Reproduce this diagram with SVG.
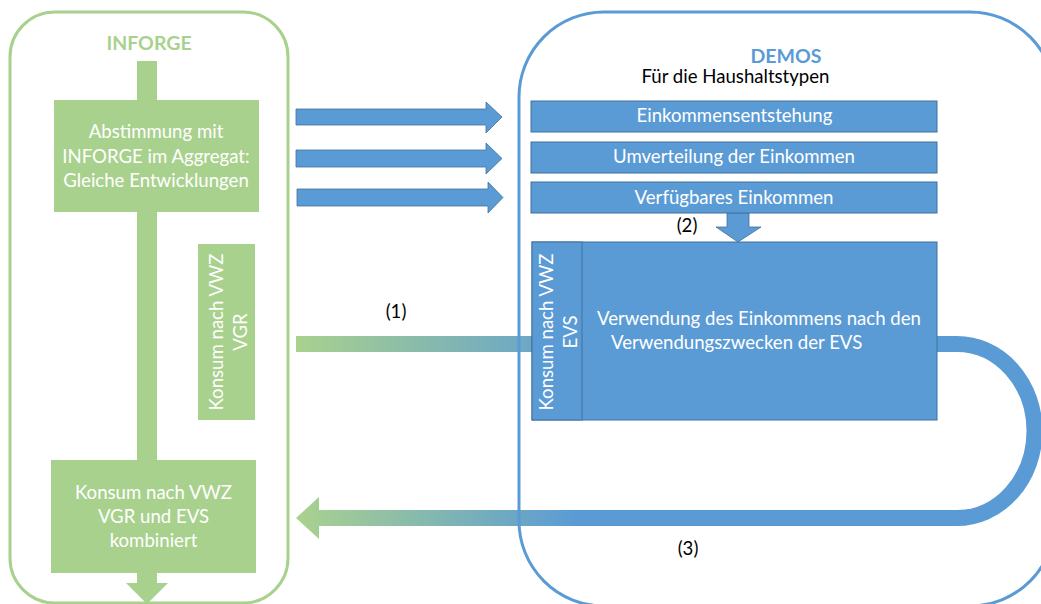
<svg xmlns="http://www.w3.org/2000/svg" width="1041" height="604" viewBox="0 0 1041 604">
<defs>
<linearGradient id="g1" gradientUnits="userSpaceOnUse" x1="296" y1="0" x2="600" y2="0">
<stop offset="0" stop-color="#A9D18E"/>
<stop offset="1" stop-color="#5B9BD5"/>
</linearGradient>
<linearGradient id="g3" gradientUnits="userSpaceOnUse" x1="300" y1="0" x2="575" y2="0">
<stop offset="0" stop-color="#A9D18E"/>
<stop offset="1" stop-color="#5B9BD5"/>
</linearGradient>
<style>
text{font-family:Lato,"Liberation Sans",sans-serif;font-size:18.6px}
.w{fill:#fff}
.c{text-anchor:middle}
.k{fill:#000}
.g{fill:#A9D18E}
.b{fill:#5B9BD5;stroke:#41719C;stroke-width:1}
.ba{fill:#5B9BD5;stroke:#41719C;stroke-width:0.8}
.t{font-weight:bold;font-size:19.5px}
</style>
</defs>
<rect width="1041" height="604" fill="#fff"/>

<g id="connectors">
<polygon points="296,109 486,109 486,102 502,117 486,133 486,125 296,125" class="ba"/>
<polygon points="296,150 486,150 486,143 502,158.5 486,174 486,167 296,167" class="ba"/>
<polygon points="297,189 488,189 488,182 503,197.5 488,213 488,206 297,206" class="ba"/>
<polygon points="727,213 749,213 749,227 761,227 738,242 716,227 727,227" class="ba"/>
<rect x="296" y="336" width="236" height="16" fill="url(#g1)"/>
<path d="M937,344 H957 A77.5,87 0 0 1 957,518 H598" fill="none" stroke="#5B9BD5" stroke-width="16"/>
<polygon points="296,518 319,497 319,510 600,510 600,526 319,526 319,539" fill="url(#g3)"/>
<text x="396" y="318" class="c k">(1)</text>
<text x="687" y="232" class="c k">(2)</text>
<text x="688" y="555" class="c k">(3)</text>
</g>

<g id="inforge">
<rect x="10" y="12" width="278" height="591" rx="45" fill="none" stroke="#A9D18E" stroke-width="3"/>
<text x="149" y="50" class="c t g">INFORGE</text>
<polygon points="137,61 157,61 157,583 168,583 147,604 126,583 137,583" class="g"/>
</g>

<g id="abstimmung">
<rect x="54" y="100" width="205" height="112" class="g"/>
<text class="c w"><tspan x="156" y="138">Abstimmung mit</tspan><tspan x="156" y="163">INFORGE im Aggregat:</tspan><tspan x="156" y="187">Gleiche Entwicklungen</tspan></text>
</g>

<g id="konsum-vgr">
<rect x="198" y="244" width="57" height="176" class="g"/>
<text class="c w" transform="translate(226,332) rotate(-90)"><tspan x="0" y="-3">Konsum nach VWZ</tspan><tspan x="0" y="21">VGR</tspan></text>
</g>

<g id="konsum-kombiniert">
<rect x="51" y="460" width="205" height="113" class="g"/>
<text class="c w"><tspan x="153.5" y="499">Konsum nach VWZ</tspan><tspan x="153.5" y="523">VGR und EVS</tspan><tspan x="153.5" y="547">kombiniert</tspan></text>
</g>

<g id="demos">
<rect x="519" y="12" width="536" height="594" rx="85" fill="none" stroke="#5B9BD5" stroke-width="3"/>
<text x="786" y="63" class="c t" fill="#5B9BD5">DEMOS</text>
<text x="735.5" y="83" class="c k">Für die Haushaltstypen</text>
</g>

<g id="einkommensentstehung">
<rect x="531" y="101" width="406" height="31" class="b"/>
<text x="734.5" y="122" class="c w">Einkommensentstehung</text>
</g>

<g id="umverteilung">
<rect x="531" y="142" width="406" height="31" class="b"/>
<text x="734" y="163" class="c w">Umverteilung der Einkommen</text>
</g>

<g id="verfuegbares">
<rect x="531" y="182" width="406" height="31" class="b"/>
<text x="734" y="204" class="c w">Verfügbares Einkommen</text>
</g>

<g id="verwendung">
<rect x="532" y="242" width="405" height="178" class="b"/>
<text class="w"><tspan x="597" y="325">Verwendung des Einkommens nach den</tspan><tspan x="611" y="349">Verwendungszwecken der EVS</tspan></text>
</g>

<g id="konsum-evs">
<rect x="532" y="242" width="50" height="178" class="b"/>
<text class="c w" transform="translate(556,332) rotate(-90)"><tspan x="0" y="-3">Konsum nach VWZ</tspan><tspan x="0" y="21">EVS</tspan></text>
</g>
</svg>
